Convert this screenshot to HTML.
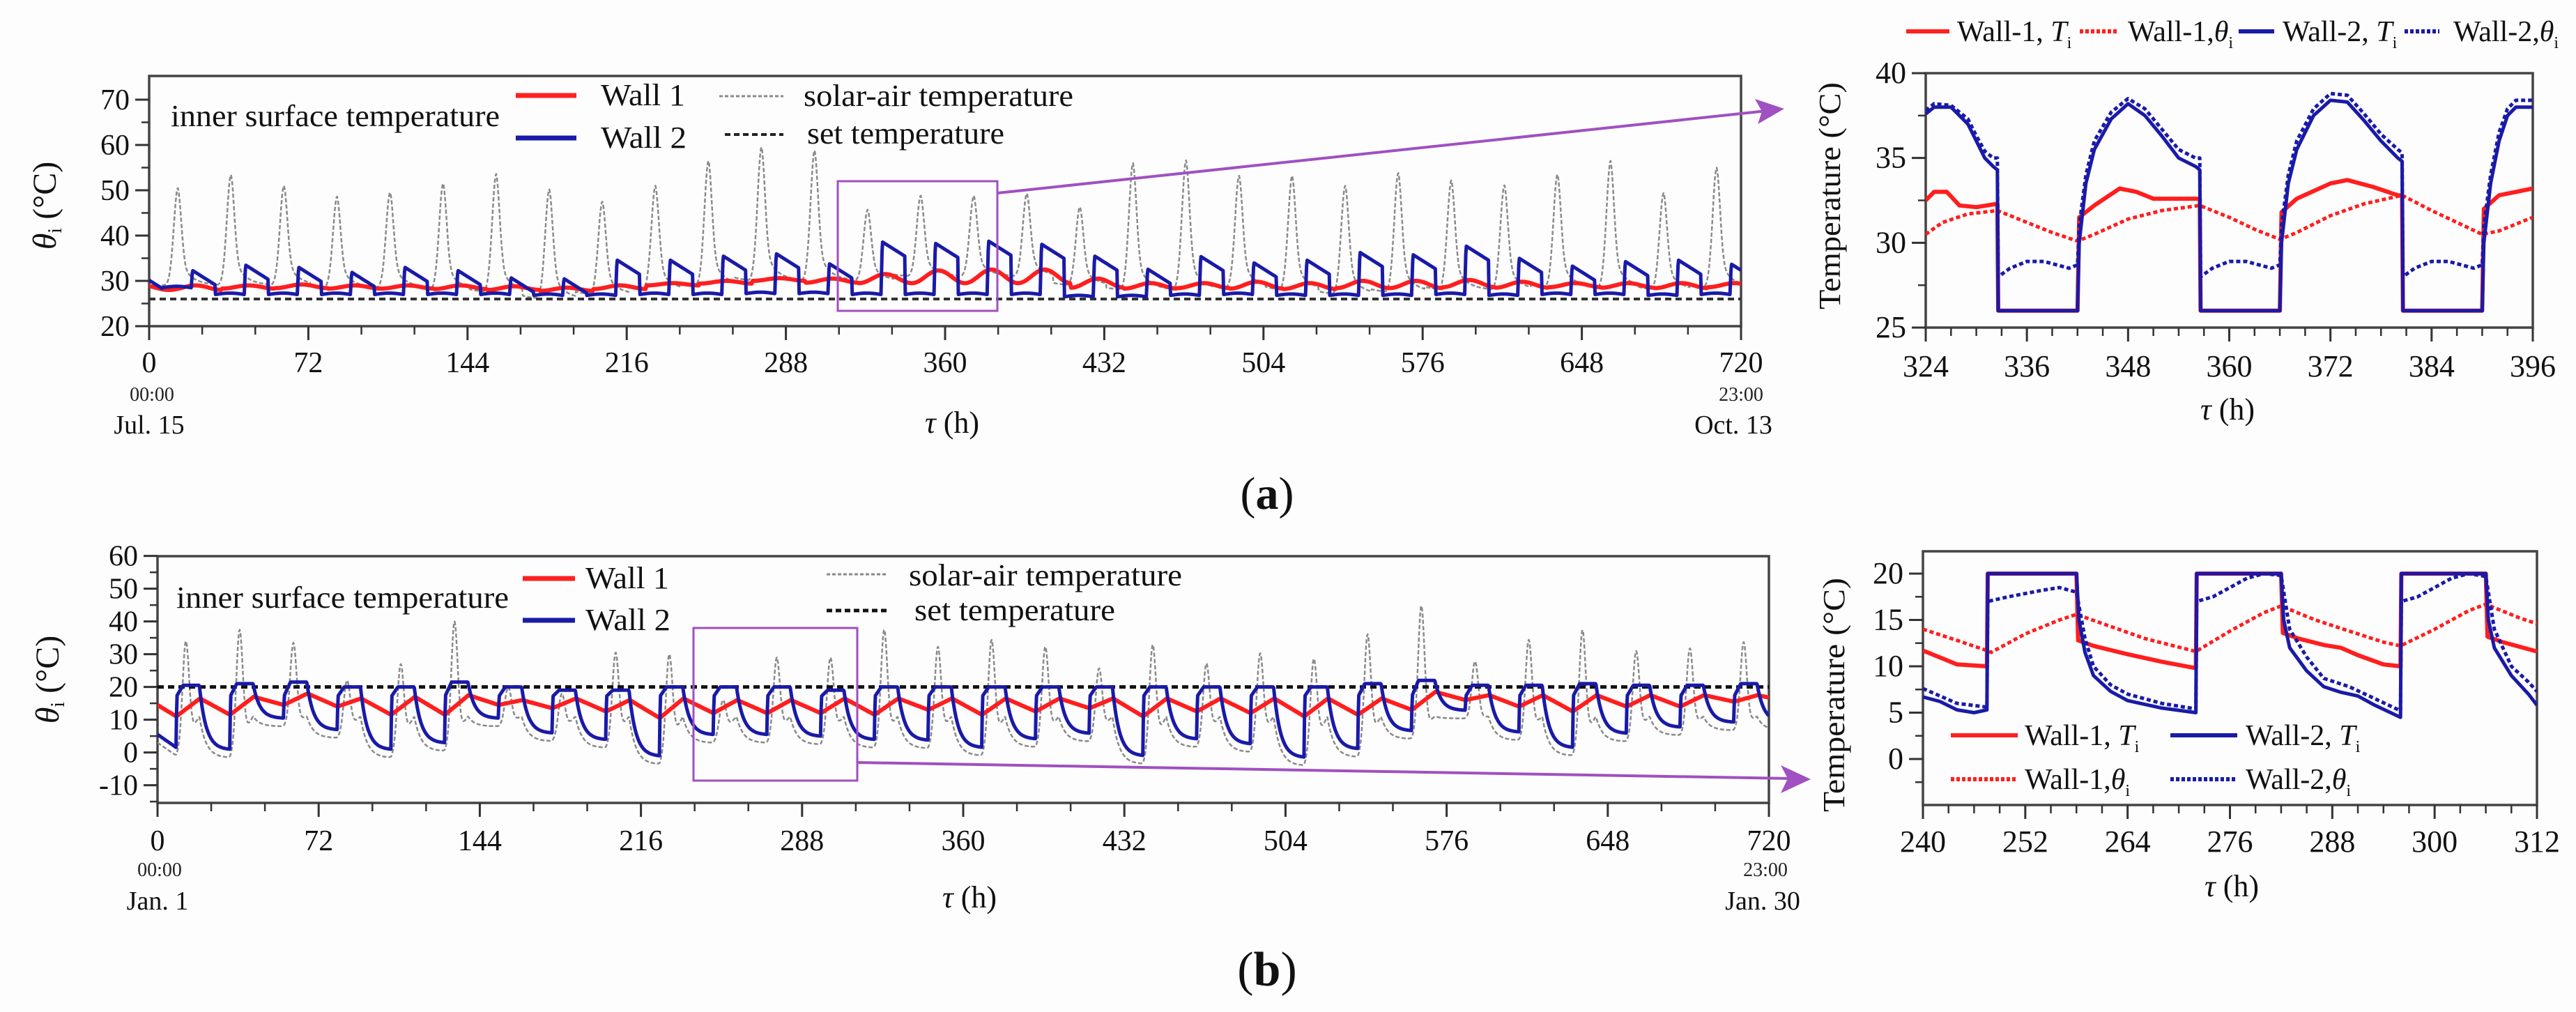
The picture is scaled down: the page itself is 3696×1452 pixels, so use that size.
<!DOCTYPE html>
<html><head><meta charset="utf-8"><style>
html,body{margin:0;padding:0;background:#fff;}
svg{display:block;font-family:"Liberation Serif",serif;}
</style></head><body>
<svg id="fig" width="3696" height="1452" viewBox="0 0 3696 1452" xmlns="http://www.w3.org/2000/svg">
<rect x="0" y="0" width="3696" height="1452" fill="#fdfdfd"/>
<defs>
<clipPath id="cA"><rect x="214" y="109" width="2284" height="359"/></clipPath>
<clipPath id="cAZ"><rect x="2763" y="105" width="871" height="365"/></clipPath>
<clipPath id="cB"><rect x="226" y="798" width="2312" height="354"/></clipPath>
<clipPath id="cBZ"><rect x="2759" y="791" width="881" height="364"/></clipPath>
</defs>
<g id="layer"></g>
<g font-size="44" fill="#111">
<text x="245" y="181" textLength="472" lengthAdjust="spacingAndGlyphs">inner surface temperature</text>
<text x="862" y="151" textLength="121" lengthAdjust="spacingAndGlyphs">Wall 1</text>
<text x="862" y="212" textLength="123" lengthAdjust="spacingAndGlyphs">Wall 2</text>
<text x="1153" y="152" textLength="387" lengthAdjust="spacingAndGlyphs">solar-air temperature</text>
<text x="1158" y="206" textLength="283" lengthAdjust="spacingAndGlyphs">set temperature</text>
</g>
<line x1="740" y1="137" x2="827" y2="137" stroke="#ff2020" stroke-width="7"/>
<line x1="740" y1="198" x2="827" y2="198" stroke="#1a1aa8" stroke-width="7"/>
<line x1="1032" y1="138" x2="1124" y2="138" stroke="#888" stroke-width="3" stroke-dasharray="5,3"/>
<line x1="1040" y1="193" x2="1124" y2="193" stroke="#222" stroke-width="4" stroke-dasharray="8,5"/>
<text transform="translate(80,295) rotate(-90)" text-anchor="middle" font-size="48" fill="#111"><tspan font-style="italic">θ</tspan><tspan font-size="28" dy="8">i</tspan><tspan dy="-8"> (°C)</tspan></text>
<text x="1366" y="621" text-anchor="middle" font-size="44" fill="#111"><tspan font-style="italic">τ</tspan> (h)</text>
<text x="218" y="575" text-anchor="middle" font-size="28" fill="#222">00:00</text>
<text x="214" y="622" text-anchor="middle" font-size="38" fill="#111">Jul. 15</text>
<text x="2498" y="575" text-anchor="middle" font-size="28" fill="#222">23:00</text>
<text x="2487" y="622" text-anchor="middle" font-size="38" fill="#111">Oct. 13</text>
<text x="1818" y="730" text-anchor="middle" font-size="66" fill="#111">(<tspan font-weight="bold">a</tspan>)</text>
<g font-size="42" fill="#111">
<line x1="2735" y1="45" x2="2797" y2="45" stroke="#ff2020" stroke-width="6"/>
<text x="2808" y="59">Wall-1, <tspan font-style="italic">T</tspan><tspan font-size="24" dy="10">i</tspan></text>
<line x1="2984" y1="45" x2="3037" y2="45" stroke="#ff2020" stroke-width="6" stroke-dasharray="5,3"/>
<text x="3053" y="59">Wall-1,<tspan font-style="italic">θ</tspan><tspan font-size="24" dy="10">i</tspan></text>
<line x1="3212" y1="45" x2="3263" y2="45" stroke="#1a1aa8" stroke-width="6"/>
<text x="3275" y="59">Wall-2, <tspan font-style="italic">T</tspan><tspan font-size="24" dy="10">i</tspan></text>
<line x1="3450" y1="45" x2="3500" y2="45" stroke="#1a1aa8" stroke-width="6" stroke-dasharray="5,3"/>
<text x="3520" y="59">Wall-2,<tspan font-style="italic">θ</tspan><tspan font-size="24" dy="10">i</tspan></text>
</g>
<text transform="translate(2640,281) rotate(-90)" text-anchor="middle" font-size="44" textLength="326" lengthAdjust="spacingAndGlyphs" fill="#111">Temperature (°C)</text>
<text x="3196" y="602" text-anchor="middle" font-size="44" fill="#111"><tspan font-style="italic">τ</tspan> (h)</text>
<g font-size="44" fill="#111">
<text x="253" y="872" textLength="477" lengthAdjust="spacingAndGlyphs">inner surface temperature</text>
<text x="840" y="844" textLength="120" lengthAdjust="spacingAndGlyphs">Wall 1</text>
<text x="840" y="904" textLength="122" lengthAdjust="spacingAndGlyphs">Wall 2</text>
<text x="1304" y="840" textLength="392" lengthAdjust="spacingAndGlyphs">solar-air temperature</text>
<text x="1312" y="890" textLength="288" lengthAdjust="spacingAndGlyphs">set temperature</text>
</g>
<line x1="750" y1="830" x2="825" y2="830" stroke="#ff2020" stroke-width="7"/>
<line x1="750" y1="890" x2="825" y2="890" stroke="#1a1aa8" stroke-width="7"/>
<line x1="1186" y1="824" x2="1273" y2="824" stroke="#888" stroke-width="3" stroke-dasharray="5,3"/>
<line x1="1186" y1="876" x2="1273" y2="876" stroke="#111" stroke-width="5" stroke-dasharray="8,5"/>
<text transform="translate(84,975) rotate(-90)" text-anchor="middle" font-size="48" fill="#111"><tspan font-style="italic">θ</tspan><tspan font-size="28" dy="8">i</tspan><tspan dy="-8"> (°C)</tspan></text>
<text x="1391" y="1302" text-anchor="middle" font-size="44" fill="#111"><tspan font-style="italic">τ</tspan> (h)</text>
<text x="229" y="1257" text-anchor="middle" font-size="28" fill="#222">00:00</text>
<text x="226" y="1305" text-anchor="middle" font-size="38" fill="#111">Jan. 1</text>
<text x="2533" y="1257" text-anchor="middle" font-size="28" fill="#222">23:00</text>
<text x="2529" y="1305" text-anchor="middle" font-size="38" fill="#111">Jan. 30</text>
<text x="1818" y="1414" text-anchor="middle" font-size="70" fill="#111">(<tspan font-weight="bold">b</tspan>)</text>
<g font-size="42" fill="#111">
<line x1="2799" y1="1055" x2="2895" y2="1055" stroke="#ff2020" stroke-width="6"/>
<text x="2905" y="1069">Wall-1, <tspan font-style="italic">T</tspan><tspan font-size="24" dy="10">i</tspan></text>
<line x1="3114" y1="1055" x2="3210" y2="1055" stroke="#1a1aa8" stroke-width="6"/>
<text x="3222" y="1069">Wall-2, <tspan font-style="italic">T</tspan><tspan font-size="24" dy="10">i</tspan></text>
<line x1="2799" y1="1118" x2="2895" y2="1118" stroke="#ff2020" stroke-width="6" stroke-dasharray="5,3"/>
<text x="2905" y="1132">Wall-1,<tspan font-style="italic">θ</tspan><tspan font-size="24" dy="10">i</tspan></text>
<line x1="3114" y1="1118" x2="3210" y2="1118" stroke="#1a1aa8" stroke-width="6" stroke-dasharray="5,3"/>
<text x="3222" y="1132">Wall-2,<tspan font-style="italic">θ</tspan><tspan font-size="24" dy="10">i</tspan></text>
</g>
<text transform="translate(2646,997) rotate(-90)" text-anchor="middle" font-size="44" textLength="336" lengthAdjust="spacingAndGlyphs" fill="#111">Temperature (°C)</text>
<text x="3202" y="1286" text-anchor="middle" font-size="44" fill="#111"><tspan font-style="italic">τ</tspan> (h)</text>
</svg>
<script>
var solarPeakA=[50.5,53.4,51,48.6,49.5,51.5,53.6,50.2,47.5,51,56.5,59.5,58.8,45.7,48.8,48.8,49.3,46.3,56,56.6,53.2,53.2,51,53.8,52.2,51.1,53.5,56.5,49.4,55];
var solarMinA=[29,29,29,28.5,28.5,28,27.5,26,27,28,29,30,30,30,31,31,31,29,28,28,28.5,28,27,27.5,28,28,28.5,28.5,28,28.5];
var wall2PeakA=[32.3,33.5,33,31.9,33,32.3,30.7,30.5,34.6,34.6,35.5,36,33.8,38.6,38.3,38.8,38.1,35.5,32.6,35.4,34,34.6,36.3,35.8,37.7,35,33.3,34.3,34.6,33.7];
var wall2LowA=[28.5,27,27,27,27,27,27,26.8,26.8,27,27,27.2,27.2,27,27,27,27,26.5,26.5,26.8,27,26.8,26.8,26.8,27,26.8,27,27,26.8,27];
var wall1MaxA=[29,29,29.2,29,29,29,28.8,28.5,29,29.5,30,30.6,30.5,31.5,32.3,32.5,32.5,30.5,29.5,29.5,29.8,29.5,30,30,30.2,29.8,29.5,29.5,29.5,29.5];
var wall1MinA=[28,28.3,28.4,28.3,28.3,28.2,28,27.8,28.2,29,29.4,30,29.6,29.5,29.5,29.5,29.5,28.5,28.3,28.4,28.3,28.2,28.4,28.4,28.6,28.5,28.6,28.5,28.4,28.6];
var setTempA=26;
var xTicksMain=[0,72,144,216,288,360,432,504,576,648,720];
var yTicksA=[20,30,40,50,60,70];
var azW2TiH=[324,325,327,329,330,331,332,332.5,332.6,342,342.2,343,344,346,348,350,352,354,356,356.5,356.6,366,366.2,367,368,370,372,374,376,378,380,380.5,380.6,390,390.2,391,392,393,394,396];
var azW2TiV=[37.6,38,38,37,36,35,34.5,34.3,26,26,30,33.5,35.5,37.3,38.2,37.5,36.3,35,34.5,34.3,26,26,30,33.5,35.5,37.5,38.4,38.3,37.2,36,35,34.8,26,26,30,33.5,36,37.5,38,38];
var azW2ThH=[324,325,327,329,330,331,332,332.5,332.6,334,336,338,341,342,342.2,343,344,346,348,350,352,354,356,356.5,356.6,358,360,362,365,366,366.2,367,368,370,372,374,376,378,380,380.5,380.6,382,384,386,389,390,390.2,391,392,393,394,396];
var azW2ThV=[37.8,38.2,38.1,37.3,36.3,35.4,35,35,28,28.5,28.9,28.9,28.5,28.7,31,34,36,37.7,38.5,37.9,36.7,35.5,35,35,28,28.5,28.9,28.9,28.5,28.7,31,34,36,37.9,38.8,38.7,37.6,36.4,35.5,35.3,28,28.5,28.9,28.9,28.5,28.7,31,34,36.5,37.9,38.4,38.4];
var azW1TiH=[324,325,326.5,328,330,332.5,332.6,342,342.2,344,347,349,351,356.5,356.6,366,366.2,368,372,374,377,380,380.5,380.6,390,390.2,392,396];
var azW1TiV=[32.5,33,33,32.2,32.1,32.3,26,26,31.5,32.2,33.2,33,32.6,32.6,26,26,31.8,32.6,33.5,33.7,33.3,32.8,32.8,26,26,32,32.8,33.2];
var azW1ThH=[324,326,329,332.5,336,339,342,344,348,352,356.5,360,363,366,368,372,376,380.5,384,387,390,392,396];
var azW1ThV=[30.5,31.2,31.7,31.9,31.2,30.6,30.1,30.5,31.4,31.9,32.2,31.5,30.8,30.2,30.6,31.6,32.3,32.8,31.9,31.2,30.5,30.7,31.5];
var xTicksAZ=[324,336,348,360,372,384,396];
var yTicksAZ=[25,30,35,40];
var solarPeakB=[34,37.5,33.5,22,27,40,20,18,30.5,30,16,29,29,37.5,32.3,34.4,32.3,25.7,32.9,27.2,30.3,28.6,36.1,44.8,27.8,34.4,37.4,31,31.8,33.7];
var wall2MinB=[1.5,1,10.5,7,1,3,10.5,6,4,-1,5.5,5.5,5,4,3.8,1.6,4.2,5.9,-0.9,4.2,2.7,-1.4,1.2,6.7,12.9,6.3,1.6,5.9,7.8,9.3];
var wall2MaxB=[20.5,21,21.5,20,20,21.5,20,19,19,20,20,20,19,20,20,20,20,20,20,20,20,20,21,22,20.5,20.5,21,20.5,20.5,21];
var wall1MaxB=[16.5,17,18,16.5,17,17.5,16,16.5,16,16.5,16,16,16.5,16.5,16.5,16.5,16.5,16.5,16.5,16.5,16.5,16.5,16.5,18.5,17.5,17.5,17.5,17.5,17.5,17.5];
var wall1MinB=[11,11.5,14.5,14,11.5,11.5,14.5,13.5,12.5,10.5,12,12,12,11.5,13,11.5,12.5,13.5,11,12.5,12,11,11.5,13,16,14,12.5,14,14,15.5];
var setTempB=20;
var yTicksB=[-10,0,10,20,30,40,50,60];
var bzW2TiH=[240,242,244,246,247.5,247.6,258,258.3,259,260,262,264,268,272,272.1,282,282.3,283,285,287,289,291,293,296,296.1,306,306.3,307,309,311,312];
var bzW2TiV=[6.7,6.2,5.3,5,5.3,20,20,15,11.5,9,7.3,6.3,5.5,5,20,20,15,12,9.5,7.8,7.2,6.8,5.8,4.5,20,20,15,12,9,7,5.8];
var bzW2ThH=[240,244,247.5,247.6,250,254,256,258,259,260,262,264,268,272,272.1,274,278,280,282,283,285,287,290,293,296,296.1,298,302,304,306,307,309,311,312];
var bzW2ThV=[7.6,6,5.6,17,17.5,18.2,18.5,18,13,10,8,7,6,5.4,17,17.5,19.5,20,19.8,14,11,8.7,7.8,6.5,5.2,17,17.5,19.5,20,19.7,14,10,8.3,7.3];
var bzW1TiH=[240,244,247.5,247.6,258,258.2,260,264,268,272,272.1,282,282.2,284,287,289,291,294,296,296.1,306,306.2,308,312];
var bzW1TiV=[11.7,10.2,10,20,20,12.8,12.2,11.3,10.5,9.8,20,20,13.6,13,12.3,12,11.2,10.2,10,20,20,13.2,12.6,11.6];
var bzW1ThH=[240,244,247.5,248,252,256,258,262,266,272,276,280,282,286,290,294,296,300,304,306,310,312];
var bzW1ThV=[14,12.8,11.7,11.5,13.5,15,15.6,14.3,13,11.6,13.8,15.8,16.5,15,13.8,12.6,12.2,14,16,16.7,15.2,14.6];
var xTicksBZ=[240,252,264,276,288,300,312];
var yTicksBZ=[0,5,10,15,20];

(function(){
var SVGNS='http://www.w3.org/2000/svg';
var layerEl=document.getElementById('layer');
function sxA(t){return 214+t*(2284/720);} function syA(v){return 468-(v-20)*6.5;}
function sxAZ(t){return 2763+(t-324)*(871/72);} function syAZ(v){return 470-(v-25)*(365/15);}
function sxB(t){return 226+t*(2312/720);} function syB(v){return 1152-(v+15.4)*4.7;}
function sxBZ(t){return 2759+(t-240)*(881/72);} function syBZ(v){return 1089-v*13.3;}
function make(tag,attrs,nm,parent){
  var el=document.createElementNS(SVGNS,tag);
  for(var k in attrs){el.setAttribute(k,String(attrs[k]));}
  
  
  (parent||layerEl).appendChild(el);
  return el;
}
function cl(k){return Math.max(0,Math.min(29,k));}
function pathStr(xs,ys){var d='';for(var i=0;i<xs.length;i++){var x=Number(xs[i]),y=Number(ys[i]);if(!isFinite(x)||!isFinite(y))continue;d+=(d?'L':'M')+x.toFixed(1)+' '+y.toFixed(1);}return d;}
function drawSeries(H,V,sx,sy,style,nm,clip){
  var g=make('g',{'clip-path':'url(#'+clip+')'},nm+'-group');
  var xs=[],ys=[];for(var i=0;i<H.length;i++){xs.push(sx(H[i]));ys.push(sy(V[i]));}
  var attrs={d:pathStr(xs,ys),fill:'none','stroke-linejoin':'round'};
  for(var k in style)attrs[k]=style[k];
  make('path',attrs,nm,g);
}
function drawFunc(f,t0,t1,dt,sx,sy,style,nm,clip){
  var H=[],V=[];for(var i=0;t0+i*dt<=t1+1e-9;i++){var t=t0+i*dt;H.push(t);V.push(f(t));}
  drawSeries(H,V,sx,sy,style,nm,clip);
}
function bumpA(d){return d<0?Math.exp(-(d/2.6)*(d/2.6)):0.7*Math.exp(-(d/2.2)*(d/2.2))+0.3*Math.exp(-d/5);}
function solarA(t){
  var base=solarMinA[cl(Math.round((t-13)/24))],v=0;
  for(var k=0;k<30;k++){var d=t-24*k-13;if(Math.abs(d)<30)v=Math.max(v,(solarPeakA[k]-base)*bumpA(d));}
  return base+v;
}
function wall2A(t){
  var k=Math.floor((t-19)/24),p=t-19-24*k;
  var P=k>=0?wall2PeakA[k]:31.5, L0=wall2LowA[cl(k)], L=wall2LowA[cl(k+1)];
  if(p<11){ if(k<0) return P-3.2*((p-0.6)/10.4);
    return p<0.6?L0+(P-L0)*(p/0.6):P-3.2*((p-0.6)/10.4);}
  return L+0.3*Math.sin(Math.PI*(p-11)/13);
}
function wall1A(t){
  var k=cl(Math.round((t-21)/24));
  var mid=(wall1MaxA[k]+wall1MinA[k])/2, amp=(wall1MaxA[k]-wall1MinA[k])/2;
  return mid+amp*Math.cos(2*Math.PI*(t-21-24*k)/24);
}
var EE=Math.exp(-13.7/3);
function dec(q){return (Math.exp(-q/3)-EE)/(1-EE);}
function wall2B(t){
  var k=Math.floor((t-8.4)/24),p=t-8.4-24*k;
  if(k<0){return wall2MinB[0]+(5.5-wall2MinB[0])*(1-t/8.4);}
  var W=wall2MaxB[cl(k)];
  if(p<10.3){return p<0.15?wall2MinB[cl(k)]+(17-wall2MinB[cl(k)])*(p/0.15):Math.min(W,17+(W-17)*(p/3));}
  var mn=wall2MinB[cl(k+1)];return mn+(W-mn)*dec(p-10.3);
}
function floorB(t){
  var k=Math.floor((t-8.4)/24),p=t-8.4-24*k;
  if(k<0) return wall2B(t)-2.5;
  if(p<10.3){var a=wall2MinB[cl(k)]-2.5;return a+(11-a)*(p/10.3);}
  var m=wall2MinB[cl(k+1)]-2.5;return m+(11-m)*dec(p-10.3);
}
function solarB(t){
  var f=floorB(t),v=0;
  for(var k=0;k<30;k++){var d=t-24*k-12.7;if(Math.abs(d)<12&&solarPeakB[k]>f)v=Math.max(v,(solarPeakB[k]-f)*Math.exp(-(d/2)*(d/2)));}
  return f+v;
}
function wall1B(t){
  var k=Math.floor((t-8.4)/24),p=t-8.4-24*k;
  if(k<0) return 14.5+(wall1MinB[0]-14.5)*(t/8.4);
  k=cl(k);
  if(p<10.6) return wall1MinB[k]+(wall1MaxB[k]-wall1MinB[k])*(p/10.6);
  return wall1MaxB[k]+(wall1MinB[cl(k+1)]-wall1MaxB[k])*((p-10.6)/13.4);
}
function drawAxes(o){
  var g=make('g',{},o.nm+'-axes');
  make('rect',{x:o.x0,y:o.y0,width:o.x1-o.x0,height:o.y1-o.y0,fill:'none',stroke:'#444','stroke-width':3.5},o.nm+'-frame',g);
  var i,v,x,y,t;
  for(i=0;i<o.xt.length;i++){v=o.xt[i];x=o.sx(v);
    make('line',{x1:x,y1:o.y1,x2:x,y2:o.y1+20,stroke:'#333','stroke-width':3},o.nm+'-x-tick',g);
    t=make('text',{x:x,y:o.xly,'text-anchor':'middle','font-size':o.fs,fill:'#111'},o.nm+'-x-tick-label',g);t.textContent=String(v);}
  var n=Math.round((o.xt[o.xt.length-1]-o.xt[0])/o.xm);
  for(i=0;i<=n;i++){x=o.sx(o.xt[0]+i*o.xm);make('line',{x1:x,y1:o.y1,x2:x,y2:o.y1+12,stroke:'#333','stroke-width':2.5},o.nm+'-x-minor-tick',g);}
  for(i=0;i<o.yt.length;i++){v=o.yt[i];y=o.sy(v);
    make('line',{x1:o.x0-20,y1:y,x2:o.x0,y2:y,stroke:'#333','stroke-width':3},o.nm+'-y-tick',g);
    t=make('text',{x:o.x0-28,y:y+14,'text-anchor':'end','font-size':o.fs,fill:'#111'},o.nm+'-y-tick-label',g);t.textContent=String(v);}
  n=Math.round((o.ym1-o.ym0)/o.ym);
  for(i=0;i<=n;i++){y=o.sy(o.ym0+i*o.ym);make('line',{x1:o.x0-11,y1:y,x2:o.x0,y2:y,stroke:'#333','stroke-width':2.5},o.nm+'-y-minor-tick',g);}
}
function safe(fn){try{fn();}catch(e){}}
safe(function(){drawAxes({nm:'a-main',x0:214,x1:2498,y0:109,y1:468,sx:sxA,sy:syA,xt:xTicksMain,xm:24,yt:yTicksA,ym:5,ym0:25,ym1:65,xly:534,fs:42});});
safe(function(){drawAxes({nm:'a-zoom',x0:2763,x1:3634,y0:105,y1:470,sx:sxAZ,sy:syAZ,xt:xTicksAZ,xm:3,yt:yTicksAZ,ym:2.5,ym0:27.5,ym1:37.5,xly:540,fs:44});});
safe(function(){drawAxes({nm:'b-main',x0:226,x1:2538,y0:798,y1:1152,sx:sxB,sy:syB,xt:xTicksMain,xm:24,yt:yTicksB,ym:5,ym0:-15,ym1:55,xly:1220,fs:42});});
safe(function(){drawAxes({nm:'b-zoom',x0:2759,x1:3640,y0:791,y1:1155,sx:sxBZ,sy:syBZ,xt:xTicksBZ,xm:3,yt:yTicksBZ,ym:2.5,ym0:-2.5,ym1:17.5,xly:1222,fs:44});});

var grey={stroke:'#8a8a8a','stroke-width':2.5,'stroke-dasharray':'6,3'};
var red={stroke:'#ff1e1e','stroke-width':6};
var blue={stroke:'#1a1aa8','stroke-width':5};
var redD={stroke:'#ff1e1e','stroke-width':5,'stroke-dasharray':'6,4'};
var blueD={stroke:'#1a1aa8','stroke-width':5,'stroke-dasharray':'6,4'};
safe(function(){drawFunc(solarA,0,720,0.25,sxA,syA,grey,'a-solar-air-line','cA');});
safe(function(){drawSeries([0,720],[setTempA,setTempA],sxA,syA,{stroke:'#333','stroke-width':4,'stroke-dasharray':'9,6'},'a-set-temperature-line','cA');});
safe(function(){drawFunc(wall1A,0,720,0.5,sxA,syA,red,'a-wall1-line','cA');});
safe(function(){drawFunc(wall2A,0,720,0.25,sxA,syA,blue,'a-wall2-line','cA');});
safe(function(){drawSeries(azW1ThH,azW1ThV,sxAZ,syAZ,redD,'az-wall1-theta-line','cAZ');});
safe(function(){drawSeries(azW1TiH,azW1TiV,sxAZ,syAZ,red,'az-wall1-ti-line','cAZ');});
safe(function(){drawSeries(azW2ThH,azW2ThV,sxAZ,syAZ,blueD,'az-wall2-theta-line','cAZ');});
safe(function(){drawSeries(azW2TiH,azW2TiV,sxAZ,syAZ,blue,'az-wall2-ti-line','cAZ');});
safe(function(){drawFunc(solarB,0,720,0.25,sxB,syB,grey,'b-solar-air-line','cB');});
safe(function(){drawSeries([0,720],[setTempB,setTempB],sxB,syB,{stroke:'#111','stroke-width':5,'stroke-dasharray':'9,6'},'b-set-temperature-line','cB');});
safe(function(){drawFunc(wall1B,0,720,0.5,sxB,syB,red,'b-wall1-line','cB');});
safe(function(){drawFunc(wall2B,0,720,0.25,sxB,syB,blue,'b-wall2-line','cB');});
safe(function(){drawSeries(bzW1ThH,bzW1ThV,sxBZ,syBZ,redD,'bz-wall1-theta-line','cBZ');});
safe(function(){drawSeries(bzW1TiH,bzW1TiV,sxBZ,syBZ,red,'bz-wall1-ti-line','cBZ');});
safe(function(){drawSeries(bzW2ThH,bzW2ThV,sxBZ,syBZ,blueD,'bz-wall2-theta-line','cBZ');});
safe(function(){drawSeries(bzW2TiH,bzW2TiV,sxBZ,syBZ,blue,'bz-wall2-ti-line','cBZ');});

var purple='#a050c0';
safe(function(){
make('rect',{x:1202,y:260,width:229,height:186,fill:'none',stroke:purple,'stroke-width':3},'a-zoom-box');
make('line',{x1:1431,y1:277,x2:2535,y2:159,stroke:purple,'stroke-width':4},'a-zoom-arrow-line');
make('polygon',{points:'2560,156 2518,142 2528,160 2522,178',fill:purple},'a-zoom-arrowhead');
make('rect',{x:995,y:901,width:235,height:219,fill:'none',stroke:purple,'stroke-width':3},'b-zoom-box');
make('line',{x1:1230,y1:1094,x2:2570,y2:1117,stroke:purple,'stroke-width':4},'b-zoom-arrow-line');
make('polygon',{points:'2598,1118 2555,1098 2565,1117 2555,1138',fill:purple},'b-zoom-arrowhead');
});
})();
</script>
</body></html>
